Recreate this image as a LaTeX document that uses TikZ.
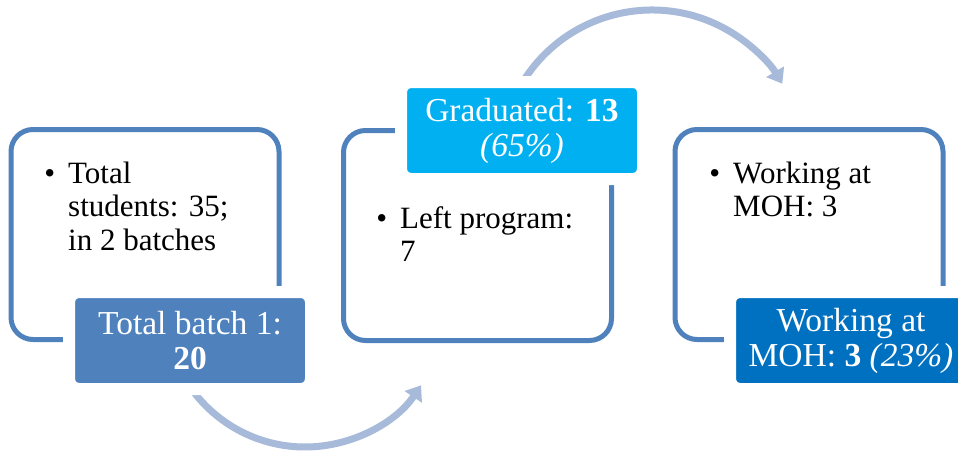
\documentclass[tikz,border=0pt]{standalone}
\usepackage{fontspec}
\setmainfont{Liberation Serif}
\usetikzlibrary{arrows.meta,calc}
\definecolor{frameblue}{RGB}{79,129,189}
\definecolor{batchblue}{RGB}{79,129,189}
\definecolor{gradcyan}{RGB}{0,176,240}
\definecolor{mohblue}{RGB}{0,112,192}
\definecolor{arcblue}{RGB}{167,186,218}
\tikzset{
  stagebox/.style={draw=frameblue, line width=5pt, rounded corners=22pt,
    minimum width=268pt, minimum height=210pt, inner sep=0pt},
  tag/.style={draw=white, line width=12pt, rounded corners=10pt,
    minimum width=242pt, minimum height=97pt, inner sep=0pt,
    text=white, align=center, font=\fontsize{33.5}{35}\selectfont},
  itemtext/.style={anchor=base west, inner sep=0pt,
    font=\fontsize{31}{33.5}\selectfont},
  flow/.style={draw=arcblue, line width=7pt,
    -{Triangle[width=20pt,length=14pt]}}
}
\newcommand{\bulletitem}{\llap{\textbullet\hspace{13pt}}}
\begin{document}
\begin{tikzpicture}[x=1pt,y=-1pt]
\useasboundingbox (0,0) rectangle (958,450);

% stage frames
\node[stagebox] (b1) at (145,234.5) {};
\node[stagebox] (b2) at (477.5,235.5) {};
\node[stagebox] (b3) at (809,234.5) {};

% bullet texts
\node[itemtext] (i1) at (68,183)
  {\begin{tabular}[t]{@{}l@{}}\bulletitem Total\\ students: 35;\\ in 2 batches\end{tabular}};
\node[itemtext] (i2) at (400,228)
  {\begin{tabular}[t]{@{}l@{}}\bulletitem Left program:\\ 7\end{tabular}};
\node[itemtext] (i3) at (733,183)
  {\begin{tabular}[t]{@{}l@{}}\bulletitem Working at\\ MOH: 3\end{tabular}};

% curved flow arrows
\coordinate (c1) at (305,307);
\coordinate (f1) at ($(c1)+(145:140)$);
\draw[flow] (f1) arc[start angle=145, end angle=34, radius=140];
\coordinate (c2) at (652,162);
\coordinate (f2) at ($(c2)+(212:152)$);
\draw[flow] (f2) arc[start angle=212, end angle=329, radius=152];

% result tags
\node[tag, fill=batchblue] (t1) at (190,340.5) {Total batch 1:\\\textbf{20}};
\node[tag, fill=gradcyan] (t2) at (522,130.5) {Graduated: \textbf{13}\\\textit{(65\%)}};
\node[tag, fill=mohblue] (t3) at (851,340.5) {Working at\\MOH: \textbf{3} \textit{(23\%)}};
\end{tikzpicture}
\end{document}
